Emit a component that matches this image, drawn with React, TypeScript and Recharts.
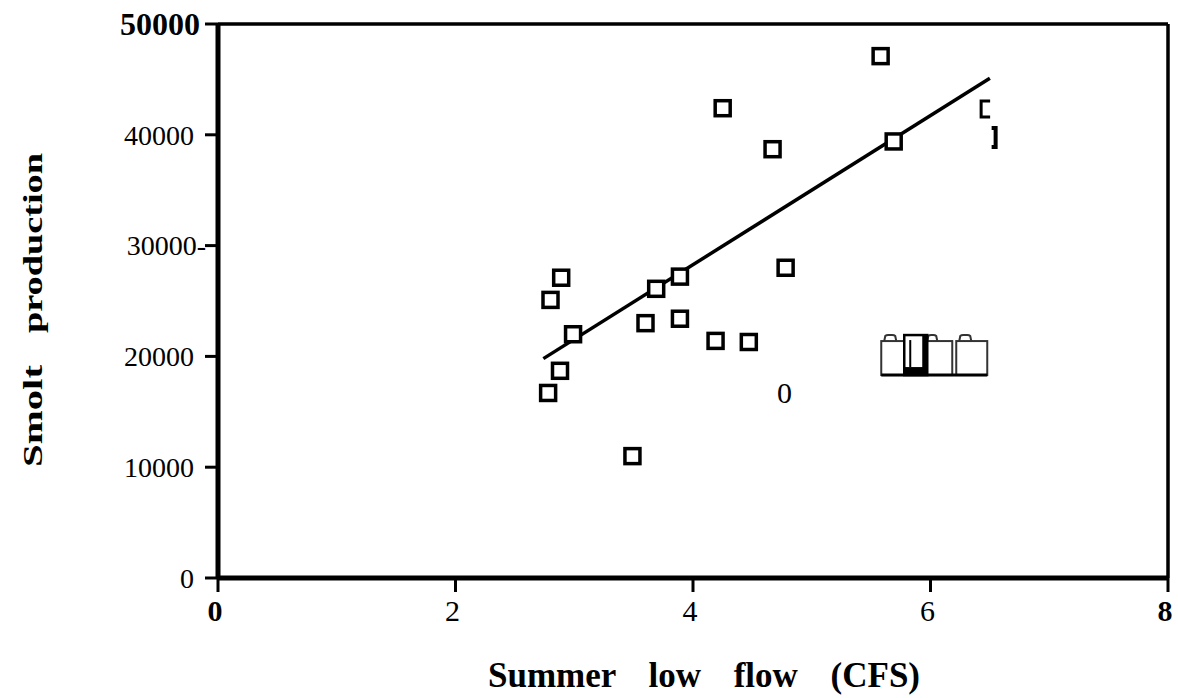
import { ReferenceLine, Scatter, ScatterChart, XAxis, YAxis } from "recharts";

const flowCfs = [5.58, 4.25, 4.67, 5.69, 2.89, 2.8, 2.99, 2.88, 2.78, 3.49, 3.6, 3.69, 3.89, 3.89, 4.19, 4.47, 4.78];
const smoltCount = [47100, 42400, 38700, 39400, 27100, 25100, 22000, 18700, 16700, 11000, 23000, 26100, 27200, 23400, 21400, 21300, 28000];

// fitted regression line (two ends)
const fitFlow = [2.74, 6.5];
const fitSmolt = [19800, 45100];

// leftover marks of the scan
const markFlow = [6.46, 6.54, 4.77, 6.04];
const markSmolt = [42330, 39800, 16700, 19850];
const markKind = ["openBracket", "closeBracket", "zero", "boxes"];

const xTicks = [0, 2, 4, 6, 8];
const xTickLabels = ["0", "2", "4", "6", "8"];
const yTicks = [0, 10000, 20000, 30000, 40000, 50000];
const yTickLabels = ["0", "10000", "20000", "30000-", "40000", "50000"];

const FONT = "Liberation Serif";

const points = flowCfs.map((x, i) => ({ x, y: smoltCount[i] }));
const fit = fitFlow.map((x, i) => ({ x, y: fitSmolt[i] }));
const marks = markFlow.map((x, i) => ({ x, y: markSmolt[i], kind: markKind[i] }));

function SquareDot(props: any) {
  const { cx, cy } = props;
  return (
    <rect x={cx - 7.5} y={cy - 7.5} width={15} height={15} fill="#fff" stroke="#000" strokeWidth={3.5} />
  );
}

function tab(x0: number, y0: number, w: number) {
  return `M${x0},${y0} L${x0 + 1},${y0 - 5} Q${x0 + 2},${y0 - 6} ${x0 + 4},${y0 - 6} L${x0 + w - 4},${y0 - 6} Q${x0 + w - 2},${y0 - 6} ${x0 + w - 1},${y0 - 5} L${x0 + w},${y0}`;
}

function ScanMark(props: any) {
  const { cx, cy, payload } = props;
  if (payload.kind === "openBracket") {
    return (
      <path d={`M${cx + 5},${cy - 8} L${cx - 4},${cy - 8} L${cx - 4},${cy + 8} L${cx + 5},${cy + 8}`} fill="none" stroke="#000" strokeWidth={3} />
    );
  }
  if (payload.kind === "closeBracket") {
    return (
      <path d={`M${cx - 3},${cy - 9} L${cx + 1},${cy - 9} L${cx + 1},${cy + 10} L${cx - 3},${cy + 10}`} fill="none" stroke="#000" strokeWidth={4} />
    );
  }
  if (payload.kind === "zero") {
    return (
      <text x={cx} y={cy} dy="0.35em" textAnchor="middle" fontFamily={FONT} fontSize={30} fill="#000">
        0
      </text>
    );
  }
  return (
    <g fill="#fff" stroke="#333" strokeWidth={2}>
      <path d={tab(cx - 51, cy - 17, 12)} />
      <path d={tab(cx - 8, cy - 17, 10)} />
      <path d={tab(cx + 24, cy - 17, 12)} />
      <rect x={cx - 54} y={cy - 17} width={71} height={34} />
      <rect x={cx + 21} y={cy - 17} width={31} height={34} />
      <rect x={cx - 31} y={cy - 23} width={23} height={40} stroke="#000" strokeWidth={2.5} />
      <line x1={cx - 25} y1={cy - 18} x2={cx - 25} y2={cy + 9} stroke="#000" strokeWidth={2} />
      <rect x={cx - 31} y={cy + 9} width={23} height={8} fill="#000" stroke="none" />
      <rect x={cx - 13} y={cy - 23} width={5} height={40} fill="#000" stroke="none" />
      <line x1={cx - 54} y1={cy + 17} x2={cx + 52} y2={cy + 17} stroke="#000" strokeWidth={3} />
    </g>
  );
}

function NoDot() {
  return <g />;
}

function YTick(props: any) {
  const { x, y, payload } = props;
  const i = yTicks.indexOf(payload.value);
  const isTop = payload.value === 50000;
  const dash = yTickLabels[i].endsWith("-");
  return (
    <text
      x={dash ? x + 1 : isTop ? x - 5 : x - 11}
      y={y}
      dy="0.35em"
      textAnchor="end"
      fontFamily={FONT}
      fontWeight={isTop ? "bold" : "normal"}
      fontSize={isTop ? 32 : 28}
      fill="#000"
    >
      {yTickLabels[i]}
    </text>
  );
}

function XTick(props: any) {
  const { x, y, payload } = props;
  const i = xTicks.indexOf(payload.value);
  const isEnd = payload.value === 0 || payload.value === 8;
  return (
    <text
      x={x - 3}
      y={y + 8}
      dy="0.71em"
      textAnchor="middle"
      fontFamily={FONT}
      fontWeight={isEnd ? "bold" : "normal"}
      fontSize={30}
      fill="#000"
    >
      {xTickLabels[i]}
    </text>
  );
}

function YTitle(props: any) {
  const vb = props.viewBox;
  const mid = vb.y + vb.height / 2;
  const bx = 42;
  return (
    <g fontFamily={FONT} fontWeight="bold" fontSize={28} fill="#000">
      <text x={bx} y={mid + 166} transform={`rotate(-90 ${bx} ${mid + 166})`} textLength={102} lengthAdjust="spacingAndGlyphs">
        Smolt
      </text>
      <text x={bx} y={mid + 32} transform={`rotate(-90 ${bx} ${mid + 32})`} textLength={180} lengthAdjust="spacingAndGlyphs">
        production
      </text>
    </g>
  );
}

function XTitle(props: any) {
  const vb = props.viewBox;
  return (
    <text
      x={vb.x + 270}
      y={vb.y + 109}
      fontFamily={FONT}
      fontWeight="bold"
      fontSize={35}
      fill="#000"
      style={{ wordSpacing: 24 }}
    >
      Summer low flow (CFS)
    </text>
  );
}

export default function App() {
  return (
    <div style={{ position: "absolute", left: 0, top: 0, background: "#fff" }}>
      <ScatterChart width={1178} height={698} margin={{ top: 24, right: 10, bottom: 0, left: 0 }}>
        <XAxis
          type="number"
          dataKey="x"
          domain={[0, 8]}
          ticks={xTicks}
          allowDataOverflow
          height={120}
          axisLine={{ stroke: "#000", strokeWidth: 5 }}
          tickLine={{ stroke: "#000", strokeWidth: 3 }}
          tickSize={14}
          tickMargin={0}
          tick={<XTick />}
          label={<XTitle />}
        />
        <YAxis
          type="number"
          dataKey="y"
          domain={[0, 50000]}
          ticks={yTicks}
          allowDataOverflow
          width={218}
          axisLine={{ stroke: "#000", strokeWidth: 5 }}
          tickLine={{ stroke: "#000", strokeWidth: 3 }}
          tickSize={13}
          tickMargin={0}
          tick={<YTick />}
          label={<YTitle />}
        />
        <ReferenceLine y={50000} stroke="#000" strokeWidth={3.5} />
        <ReferenceLine x={8} stroke="#000" strokeWidth={3.5} />
        <Scatter
          data={fit}
          line={{ stroke: "#000", strokeWidth: 3.5 }}
          shape={<NoDot />}
          isAnimationActive={false}
        />
        <Scatter data={points} shape={<SquareDot />} isAnimationActive={false} />
        <Scatter data={marks} shape={<ScanMark />} isAnimationActive={false} />
      </ScatterChart>
    </div>
  );
}
